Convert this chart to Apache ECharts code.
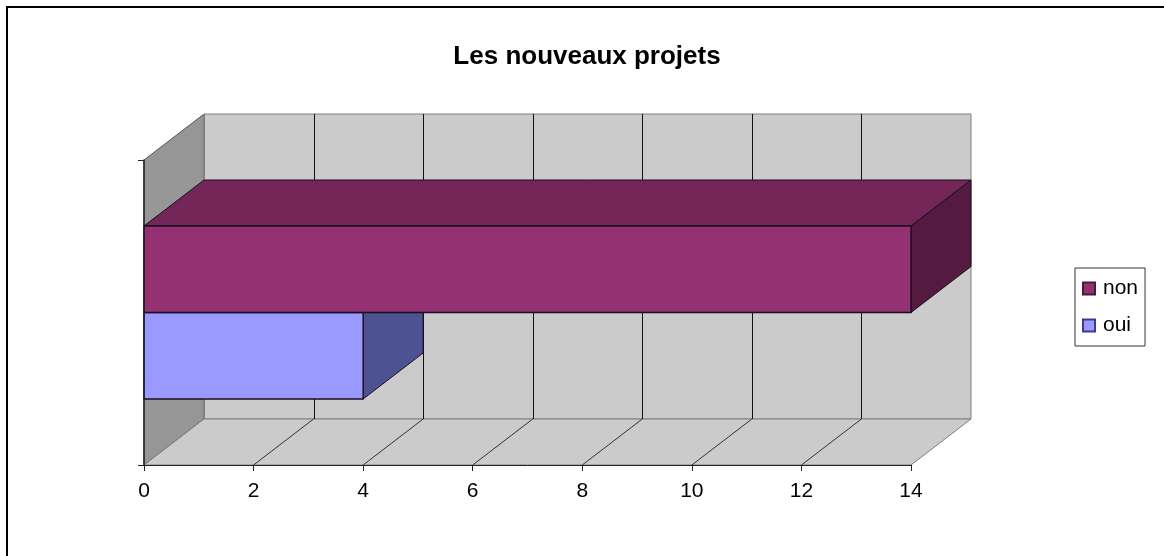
<!DOCTYPE html>
<html><head><meta charset="utf-8">
<style>html,body{margin:0;padding:0;background:#fff}#c{width:1164px;height:556px}</style>
<script src="https://cdn.jsdelivr.net/npm/echarts@6/dist/echarts.min.js"></script>
</head><body><div id="c"></div>
<script>
const titleText = 'Les nouveaux projets';
const categories = ['projets'];
const seriesNames = ['non', 'oui'];
const nonValues = [14];
const ouiValues = [4];
const gridTicks = [2, 4, 6, 8, 10, 12];

const DX = 60, DY = -46, BAR_SHARE = 0.2836;
const px = v => Math.round(v) + 0.5;

function poly(points, fill, stroke, lw) {
  return { type: 'polygon', shape: { points }, style: { fill, stroke: stroke || null, lineWidth: lw || 0 } };
}
function line(x1, y1, x2, y2, stroke, lw) {
  return { type: 'line', shape: { x1, y1, x2, y2 }, style: { stroke, lineWidth: lw || 1 } };
}
function wallsItem(params) {
  const r = params.coordSys, x = r.x, y = r.y, w = r.width, h = r.height;
  const edge = '#808080';
  return { type: 'group', children: [
    poly([[x, y], [x + DX, y + DY], [x + DX, y + h + DY], [x, y + h]], '#969696', '#555', 1),
    poly([[x + DX, y + DY], [x + w + DX, y + DY], [x + w + DX, y + h + DY], [x + DX, y + h + DY]], '#cbcbcb', edge, 1),
    poly([[x, y + h], [x + DX, y + h + DY], [x + w + DX, y + h + DY], [x + w, y + h]], '#cbcbcb', edge, 1),
    line(x + DX, y + DY, x + DX, y + h + DY, edge, 2)
  ]};
}
function gridItem(params, api) {
  const r = params.coordSys;
  const p = api.coord([api.value(0), 0])[0];
  const xb = px(p + DX);
  return { type: 'group', children: [
    line(xb, r.y + DY, xb, r.y + r.height + DY, '#111', 1),
    line(p, r.y + r.height, p + DX, r.y + r.height + DY, '#333', 1)
  ]};
}
function barItem(side, colors) {
  return function (params, api) {
    const c = api.coord([api.value(0), api.value(1)]);
    const c0 = api.coord([0, api.value(1)]);
    const bh = api.size([0, 1])[1] * BAR_SHARE;
    const y0 = side < 0 ? c[1] - bh : c[1], y1 = y0 + bh;
    const x0 = c0[0], x1 = c[0], s = '#1a1020';
    return { type: 'group', children: [
      poly([[x0, y0], [x0 + DX, y0 + DY], [x1 + DX, y0 + DY], [x1, y0]], colors[1], s, 1),
      poly([[x1, y0], [x1 + DX, y0 + DY], [x1 + DX, y1 + DY], [x1, y1]], colors[2], s, 1),
      { type: 'rect', shape: { x: x0, y: y0, width: x1 - x0, height: bh }, style: { fill: colors[0], stroke: s, lineWidth: 1.4 } }
    ]};
  };
}

const chart = echarts.init(document.getElementById('c'), null, { renderer: 'canvas' });
chart.setOption({
  animation: false,
  backgroundColor: '#fff',
  title: { text: titleText, left: 582, top: 39, textAlign: 'center',
    textStyle: { fontFamily: 'Liberation Sans', fontSize: 26, fontWeight: 'bold', color: '#000' } },
  graphic: [{ type: 'rect', z: 100, shape: { x: 7, y: 7, width: 1300, height: 700 },
    style: { fill: 'none', stroke: '#000', lineWidth: 2 } }],
  legend: { data: seriesNames, orient: 'vertical', left: 1075, top: 268,
    padding: [10, 7, 10, 7], itemWidth: 12, itemHeight: 12, itemGap: 16,
    backgroundColor: '#fff', borderColor: '#333', borderWidth: 1, borderRadius: 0,
    selectedMode: false, icon: 'rect',
    textStyle: { fontFamily: 'Liberation Sans', fontSize: 21, color: '#000', padding: [0, 0, 0, 3] } },
  grid: { left: 144, right: 253, top: 160, height: 305 },
  xAxis: { type: 'value', min: 0, max: 14, interval: 2, z: 10, splitLine: { show: false },
    axisLine: { show: true, lineStyle: { color: '#222', width: 1 } },
    axisTick: { show: true, length: 6, lineStyle: { color: '#222' } },
    axisLabel: { fontFamily: 'Liberation Sans', fontSize: 21, color: '#000', margin: 16 } },
  yAxis: { type: 'category', data: categories, z: 10,
    axisLine: { show: true, lineStyle: { color: '#222', width: 1.5 } },
    axisTick: { show: true, length: 6, alignWithLabel: false, lineStyle: { color: '#222' } },
    axisLabel: { show: false }, splitLine: { show: false } },
  series: [
    { type: 'custom', name: '_walls', z: 1, silent: true, renderItem: wallsItem, data: [[0, 0]], encode: { x: 0, y: 1 } },
    { type: 'custom', name: '_grid', z: 2, silent: true, renderItem: gridItem, data: gridTicks.map(v => [v, 0]), encode: { x: 0, y: 1 } },
    { type: 'custom', name: 'oui', z: 3, renderItem: barItem(1, ['#9999ff', '#7a7acc', '#4d5291']),
      itemStyle: { color: '#9999ff', borderColor: '#3a3a9a', borderWidth: 1 },
      data: ouiValues.map((v, i) => [v, i]), encode: { x: 0, y: 1 } },
    { type: 'custom', name: 'non', z: 4, renderItem: barItem(-1, ['#933172', '#742659', '#541a40']),
      itemStyle: { color: '#933172', borderColor: '#4a1a3a', borderWidth: 1 },
      data: nonValues.map((v, i) => [v, i]), encode: { x: 0, y: 1 } }
  ]
});
</script></body></html>
